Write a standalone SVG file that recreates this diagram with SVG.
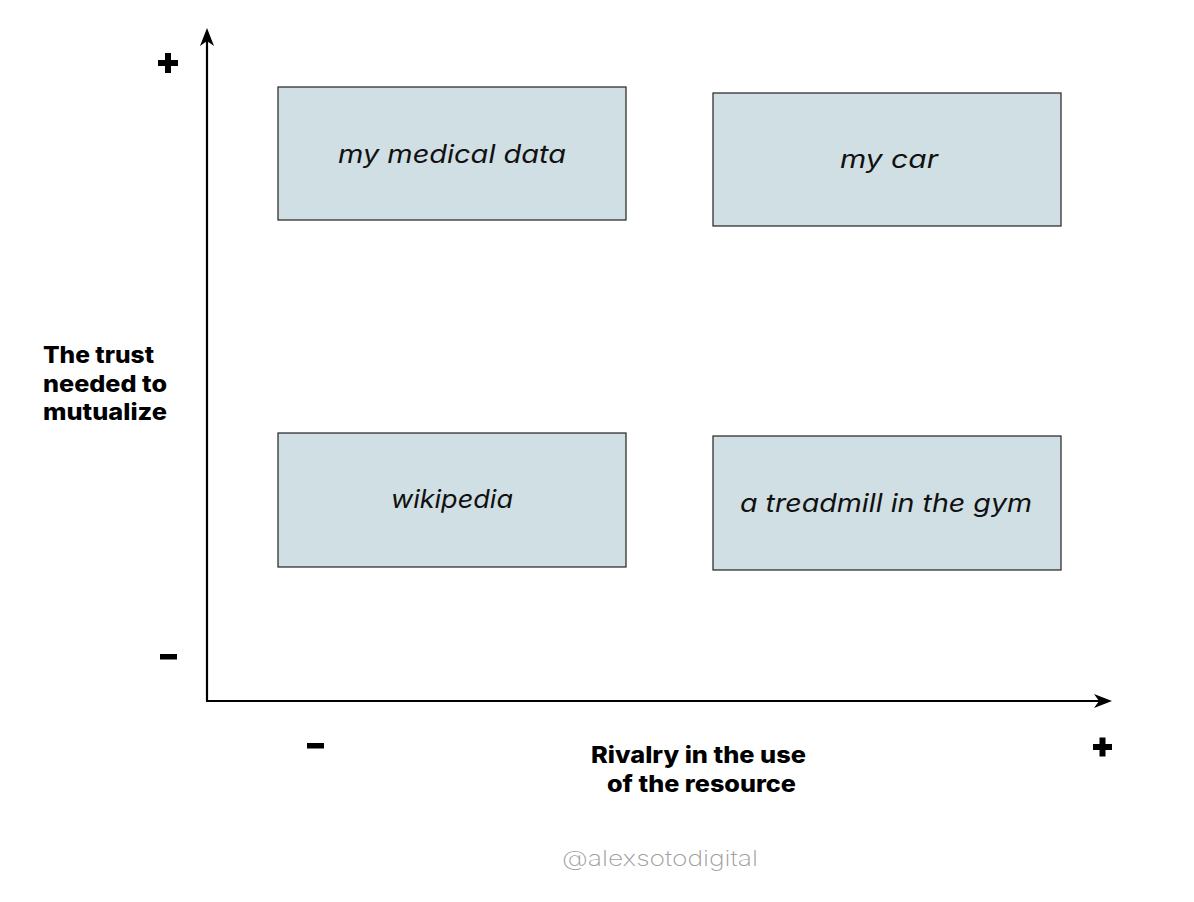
<svg xmlns="http://www.w3.org/2000/svg" width="1194" height="902" viewBox="0 0 1194 902">
<style>
.box{fill:#d0dfe3;stroke:#222;stroke-width:1.2}
.bt{font-family:Inter,"Open Sans","DejaVu Sans",sans-serif;font-style:italic;font-size:25px;fill:#111}
.lb{font-family:Inter,"Open Sans","DejaVu Sans",sans-serif;font-weight:800;font-size:22.5px;fill:#000}
.ax{stroke:#000;stroke-width:2.2;fill:none}
.sg{fill:#000}
</style>
<rect width="1194" height="902" fill="#fff"/>
<g id="connectors">
<path class="ax" d="M207,701 L207,36"/>
<path d="M207,28 L200,46 L207,41 L214,46 Z" fill="#000"/>
<path class="ax" d="M206,701 L1104,701"/>
<path d="M1112,701 L1094,694 L1099,701 L1094,708 Z" fill="#000"/>
</g>
<g id="signs">
<rect class="sg" x="158" y="60" width="20" height="6"/><rect class="sg" x="165" y="53" width="6" height="20"/>
<rect class="sg" x="1093" y="744" width="19" height="6"/><rect class="sg" x="1099.5" y="737.5" width="6" height="19"/>
<rect class="sg" x="160" y="654" width="17" height="5.5"/>
<rect class="sg" x="307" y="743" width="17" height="5.5"/>
</g>
<g id="node-medical">
<rect class="box" x="278" y="87" width="348" height="133"/>
<text class="bt" x="338" y="163" textLength="228" lengthAdjust="spacingAndGlyphs">my medical data</text>
</g>
<g id="node-car">
<rect class="box" x="713" y="93" width="348" height="133"/>
<text class="bt" x="840" y="168" textLength="98" lengthAdjust="spacingAndGlyphs">my car</text>
</g>
<g id="node-wikipedia">
<rect class="box" x="278" y="433" width="348" height="134"/>
<text class="bt" x="391" y="508" textLength="122" lengthAdjust="spacingAndGlyphs">wikipedia</text>
</g>
<g id="node-treadmill">
<rect class="box" x="713" y="436" width="348" height="134"/>
<text class="bt" x="740" y="512" textLength="292" lengthAdjust="spacingAndGlyphs">a treadmill in the gym</text>
</g>
<g id="label-y">
<text class="lb" x="43" y="363" textLength="111" lengthAdjust="spacingAndGlyphs">The trust</text>
<text class="lb" x="43" y="392" textLength="124" lengthAdjust="spacingAndGlyphs">needed to</text>
<text class="lb" x="43" y="420" textLength="124" lengthAdjust="spacingAndGlyphs">mutualize</text>
</g>
<g id="label-x">
<text class="lb" x="591" y="763" textLength="215" lengthAdjust="spacingAndGlyphs">Rivalry in the use</text>
<text class="lb" x="607" y="792" textLength="189" lengthAdjust="spacingAndGlyphs">of the resource</text>
</g>
<g id="watermark">
<text x="562" y="866" textLength="196" lengthAdjust="spacingAndGlyphs" font-family="Inter,'Open Sans',sans-serif" font-weight="200" font-size="22" fill="#a0a0a0">@alexsotodigital</text>
</g>
</svg>
